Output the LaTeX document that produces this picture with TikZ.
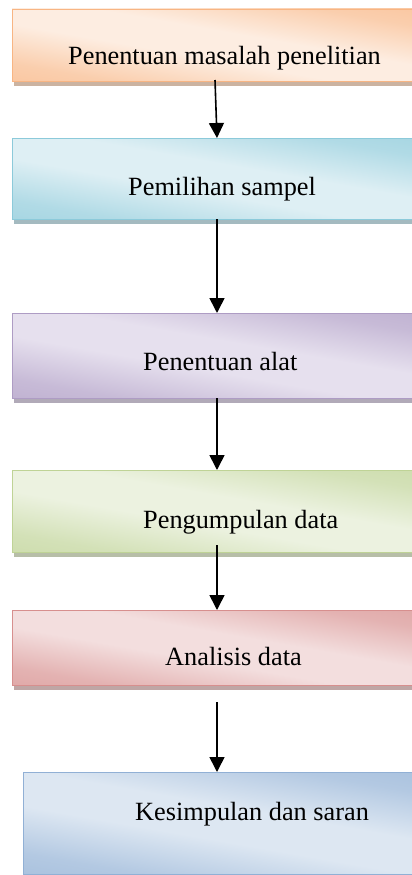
\documentclass[tikz,border=0pt]{standalone}
\usepackage{fontspec}
\setmainfont{Liberation Serif}
\usetikzlibrary{arrows.meta,shadows}
\definecolor{orD}{HTML}{F8B583}\definecolor{orL}{HTML}{FDEDE1}
\definecolor{blD}{HTML}{8CCADA}\definecolor{blL}{HTML}{DEEFF4}
\definecolor{puD}{HTML}{AE9CC4}\definecolor{puL}{HTML}{E6E0EE}
\definecolor{grD}{HTML}{BFD396}\definecolor{grL}{HTML}{ECF2E0}
\definecolor{reD}{HTML}{D78F8E}\definecolor{reL}{HTML}{F3DEDE}
\definecolor{sbD}{HTML}{91B0D5}\definecolor{sbL}{HTML}{DDE7F2}
\colorlet{shA}{orD}\colorlet{shB}{orL}
\pgfdeclareverticalshading[shA,shB]{boxshade}{100bp}{color(0bp)=(shA); color(28bp)=(shB!45!shA); color(44bp)=(shB); color(56bp)=(shB); color(72bp)=(shB!45!shA); color(100bp)=(shA)}
\tikzset{
  stepbox/.style 2 args={draw=#1, line width=0.8pt, inner sep=0pt, outer sep=0pt,
    shcols={#1}{#2}, shading=boxshade, shading angle=-10,
    drop shadow={shadow xshift=2pt, shadow yshift=-5pt, opacity=0.55, fill=#1!65!black}},
  shcols/.code 2 args={\colorlet{shA}{#1}\colorlet{shB}{#2}},
  steptext/.style={anchor=base west, inner sep=0pt, font=\fontsize{26.3}{30}\selectfont},
  arr/.style={line width=1.6pt, -{Triangle[length=15pt,width=15pt]}}
}
\begin{document}
\begin{tikzpicture}[x=1pt,y=-1pt]
\useasboundingbox (0,0) rectangle (412,875);
\fill[white] (0,0) rectangle (412,875);
\node[stepbox={orD}{orL}, minimum width=408pt, minimum height=72pt] (b1) at (216,45) {};
\node[stepbox={blD}{blL}, minimum width=408pt, minimum height=81pt] (b2) at (216,178.5) {};
\node[stepbox={puD}{puL}, minimum width=408pt, minimum height=85pt] (b3) at (216,355.5) {};
\node[stepbox={grD}{grL}, minimum width=408pt, minimum height=82pt] (b4) at (216,511) {};
\node[stepbox={reD}{reL}, minimum width=408pt, minimum height=75pt] (b5) at (216,647.5) {};
\node[stepbox={sbD}{sbL}, minimum width=397pt, minimum height=102pt] (b6) at (221.5,823) {};
\node[steptext] (t1) at (68,65) {Penentuan masalah penelitian};
\node[steptext] (t2) at (128,195) {Pemilihan sampel};
\node[steptext] (t3) at (143,370) {Penentuan alat};
\node[steptext] (t4) at (143,528) {Pengumpulan data};
\node[steptext] (t5) at (165,665) {Analisis data};
\node[steptext] (t6) at (135,820) {Kesimpulan dan saran};
\draw[arr] ([xshift=-1pt,yshift=1pt]b1.south) -- ([xshift=1pt]b2.north);
\draw[arr] ([xshift=1pt]b2.south) -- ([xshift=1pt]b3.north);
\draw[arr] ([xshift=1pt]b3.south) -- ([xshift=1pt]b4.north);
\draw[arr] ([xshift=1pt,yshift=7pt]b4.south) -- ([xshift=1pt]b5.north);
\draw[arr] ([xshift=1pt,yshift=-17pt]b5.south) -- ([xshift=-4.5pt]b6.north);
\end{tikzpicture}
\end{document}
